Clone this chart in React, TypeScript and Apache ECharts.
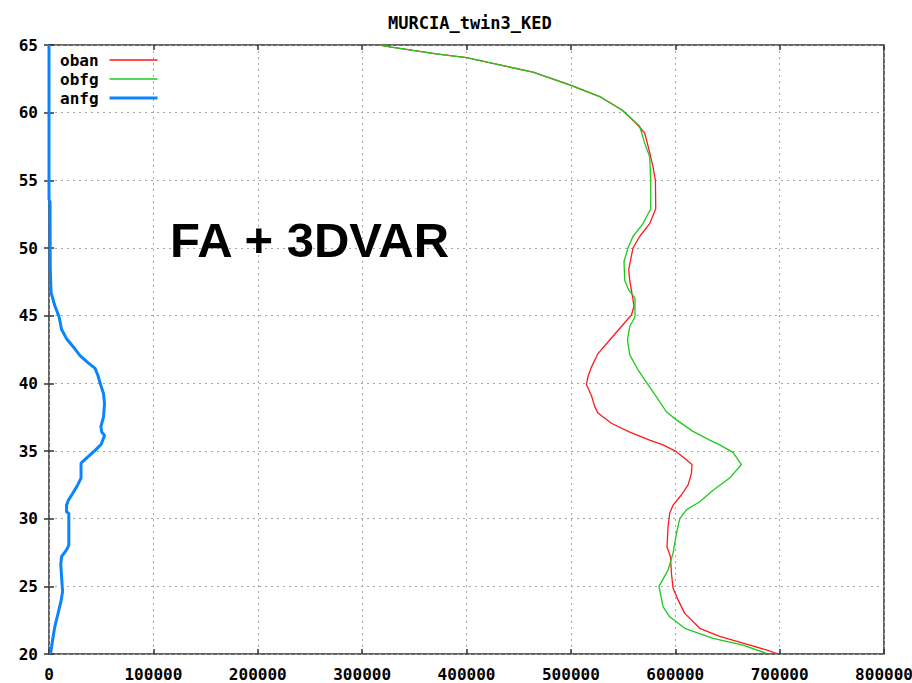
import React, { useEffect, useRef } from "react";
import * as echarts from "echarts";

const chartTitle = "MURCIA_twin3_KED";
const annotation = "FA + 3DVAR";
const seriesNames = ["oban", "obfg", "anfg"];
const xTicks = [0, 100000, 200000, 300000, 400000, 500000, 600000, 700000, 800000];
const yTicks = [20, 25, 30, 35, 40, 45, 50, 55, 60, 65];

// [value, height]
const oban: number[][] = [
  [316800, 65], [328000, 64.85], [348700, 64.6], [371000, 64.35], [400000, 64.07], [431800, 63.53],
  [463700, 62.99], [498900, 62.05], [527600, 61.19], [549000, 60.2], [562800, 59.2], [570700, 58.5],
  [574900, 57.25], [578700, 56.0], [581000, 55.0], [581300, 52.9], [575500, 51.8], [565900, 50.85],
  [559500, 50.0], [555400, 48.4], [556400, 47.6], [559500, 46.2], [560500, 45.7], [558000, 45.05],
  [548400, 44.2], [537200, 43.2], [526000, 42.2], [519700, 41.2], [516400, 40.5], [514900, 39.9],
  [519700, 39.1], [522800, 38.3], [526000, 37.8], [538800, 37.05], [556400, 36.4], [575500, 35.8],
  [588300, 35.45], [601100, 34.95], [610700, 34.35], [616000, 34.0], [615500, 33.35], [612300, 32.5],
  [605900, 31.75], [597900, 31.0], [594700, 30.4], [593100, 29.4], [592100, 27.9], [595400, 27.2],
  [596300, 26.0], [597900, 24.85], [602700, 24.0], [609100, 23.0], [623400, 21.9], [642600, 21.3],
  [664900, 20.8], [687300, 20.3], [698500, 20],
];

const obfg: number[][] = [
  [316800, 65], [328000, 64.85], [348700, 64.6], [371000, 64.35], [400000, 64.07], [431800, 63.53],
  [463700, 62.99], [498900, 62.05], [527600, 61.19], [549000, 60.2], [565900, 59.0], [570700, 57.75],
  [575500, 56.75], [576500, 55.0], [576500, 52.9], [569100, 51.8], [559500, 50.85], [554700, 50.0],
  [550900, 49.0], [551600, 47.6], [555400, 46.9], [561400, 46.3], [561400, 44.9], [556400, 44.2],
  [554200, 43.2], [556400, 42.1], [564300, 41.0], [573900, 39.9], [582000, 39.0], [591500, 37.9],
  [601100, 37.3], [617000, 36.45], [633000, 35.8], [642600, 35.45], [655300, 34.9], [663400, 34.0],
  [652200, 33.0], [636200, 32.1], [623400, 31.25], [610700, 30.65], [604300, 30.0], [601100, 28.9],
  [597900, 27.45], [593100, 26.2], [584400, 25.0], [588300, 23.5], [594700, 22.75], [609100, 21.9],
  [636200, 21.15], [664900, 20.65], [687300, 20.05],
];

const anfg: number[][] = [
  [0, 65], [0, 53.6], [1000, 53.4], [1200, 48.5], [2000, 46.7], [5500, 45.75], [9700, 44.9],
  [12000, 44.0], [16800, 43.3], [24800, 42.55], [29700, 42.05], [37000, 41.55], [44200, 41.1],
  [46800, 40.6], [49000, 40.0], [52200, 39.25], [53200, 38.5], [52200, 37.5], [49700, 36.8],
  [50500, 36.4], [53200, 36.15], [50000, 35.5], [44200, 35.05], [37000, 34.55], [30700, 34.1],
  [30700, 33.0], [26500, 32.35], [21700, 31.75], [18500, 31.35], [16800, 31.0], [16800, 30.5],
  [19000, 30.4], [19000, 28.05], [16800, 27.7], [12000, 27.2], [11300, 26.6], [13000, 24.6],
  [11500, 23.9], [8700, 23.0], [5500, 22.0], [3500, 21.05], [1500, 20.0],
];

const MONO = "'DejaVu Sans Mono', monospace";
const RED = "#ff1a1a";
const GREEN = "#1ec81e";
const BLUE = "#0a84ff";

export default function App() {
  const ref = useRef<HTMLDivElement>(null);
  useEffect(() => {
    if (!ref.current) return;
    const chart = echarts.init(ref.current, undefined, { renderer: "svg" });
    const xMin = xTicks[0];
    const xMax = xTicks[xTicks.length - 1];
    const xInt = xTicks[1] - xTicks[0];
    const yMin = yTicks[0];
    const yMax = yTicks[yTicks.length - 1];
    const yInt = yTicks[1] - yTicks[0];
    const labelStyle = { fontFamily: MONO, fontSize: 16, fontWeight: "bold" as const, color: "#000" };
    const grid = {
      left: 49, right: 28, top: 45, bottom: 29, show: true,
      borderColor: "#333", borderWidth: 1.5, backgroundColor: "transparent",
      containLabel: false, outerBoundsMode: "none",
    };
    const split = { show: true, lineStyle: { color: "#a8a8a8", type: [2, 4] as any, width: 1 } };
    const tick = { show: true, inside: true, length: 5, lineStyle: { color: "#333", width: 1.5 } };
    chart.setOption({
      animation: false,
      backgroundColor: "#fff",
      title: {
        text: chartTitle,
        left: 383,
        top: 9,
        textStyle: { fontFamily: MONO, fontSize: 17, fontWeight: "bold", color: "#000" },
      },
      grid,
      legend: {
        orient: "vertical",
        left: 55,
        top: 47,
        align: "right",
        itemWidth: 48,
        itemHeight: 12,
        itemGap: 3,
        itemStyle: { opacity: 0 },
        textStyle: { ...labelStyle, padding: [0, 6, 0, 0] },
        data: [
          { name: seriesNames[0], lineStyle: { width: 1.3 } },
          { name: seriesNames[1], lineStyle: { width: 1.3 } },
          { name: seriesNames[2], lineStyle: { width: 3 } },
        ],
      },
      xAxis: [
        {
          type: "value", min: xMin, max: xMax, interval: xInt, position: "bottom",
          axisLine: { show: false },
          axisTick: tick,
          axisLabel: { ...labelStyle, margin: 12, formatter: (v: number) => String(v) },
          splitLine: split,
        },
        {
          type: "value", min: xMin, max: xMax, interval: xInt, position: "top",
          axisLine: { show: false },
          axisTick: tick,
          axisLabel: { show: false },
          splitLine: { show: false },
        },
      ],
      yAxis: [
        {
          type: "value", min: yMin, max: yMax, interval: yInt, position: "left",
          axisLine: { show: false },
          axisTick: tick,
          axisLabel: { ...labelStyle, margin: 11 },
          splitLine: split,
        },
        {
          type: "value", min: yMin, max: yMax, interval: yInt, position: "right",
          axisLine: { show: false },
          axisTick: tick,
          axisLabel: { show: false },
          splitLine: { show: false },
        },
      ],
      graphic: [
        {
          type: "text",
          left: 170,
          top: 215,
          style: { text: annotation, fontFamily: "'Liberation Sans', Arial, sans-serif", fontSize: 49, fontWeight: "bold", fill: "#000" },
          z: 10,
        },
      ],
      series: [
        { name: seriesNames[0], type: "line", data: oban, symbol: "none", lineStyle: { color: RED, width: 1.3 }, itemStyle: { color: RED }, z: 3 },
        { name: seriesNames[1], type: "line", data: obfg, symbol: "none", lineStyle: { color: GREEN, width: 1.3 }, itemStyle: { color: GREEN }, z: 4 },
        { name: seriesNames[2], type: "line", data: anfg, symbol: "none", lineStyle: { color: BLUE, width: 3 }, itemStyle: { color: BLUE }, z: 5 },
      ],
    });
    return () => chart.dispose();
  }, []);
  return <div ref={ref} style={{ position: "fixed", left: 0, top: 0, width: 912, height: 683 }} />;
}
